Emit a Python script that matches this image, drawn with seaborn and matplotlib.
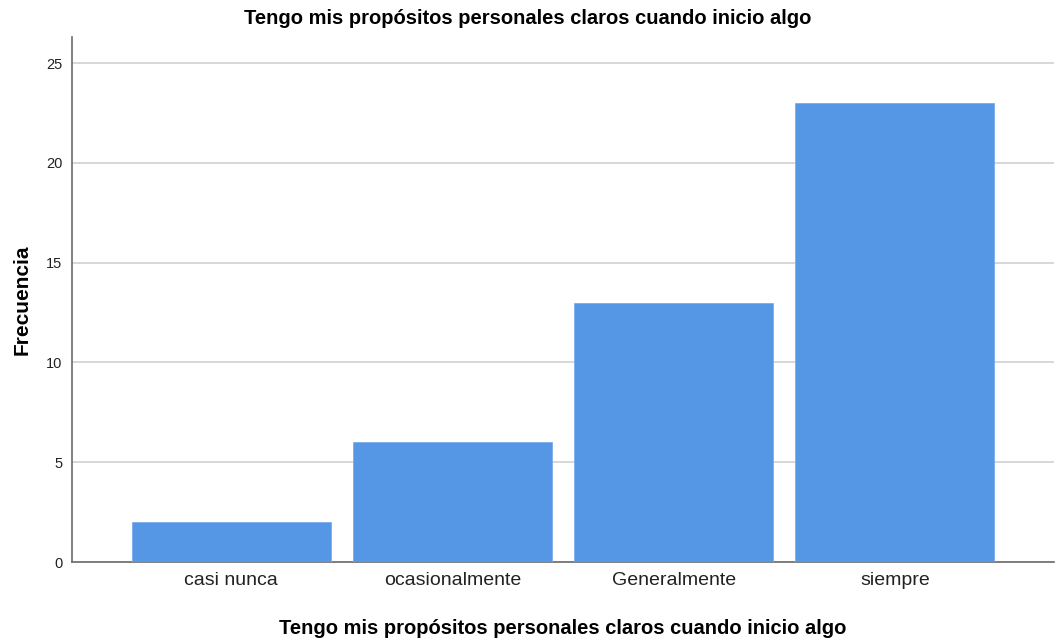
import matplotlib
matplotlib.use('Agg')
import matplotlib.pyplot as plt
import pandas as pd
import seaborn as sns

categories = ['casi nunca', 'ocasionalmente', 'Generalmente', 'siempre']
frecuencia = [2, 6, 13, 23]
titulo = 'Tengo mis propósitos personales claros cuando inicio algo'

sns.set_theme(style='white')
plt.rcParams['font.family'] = ['Liberation Sans', 'DejaVu Sans']

df = pd.DataFrame({'cat': categories, 'freq': frecuencia})

fig = plt.figure(figsize=(10.55, 6.39), dpi=100)
ax = fig.add_axes([0.0682, 0.1205, 0.931, 0.8215])

ax.yaxis.grid(True, color='#d4d4d4', linewidth=1.3, zorder=0)
ax.set_axisbelow(True)
sns.barplot(data=df, x='cat', y='freq', color='#5596e5', width=0.9,
            saturation=1, edgecolor='#7aaeed', linewidth=0.6, ax=ax, zorder=3)

ax.set_xlim(-0.72, 3.72)
ax.set_ylim(0, 26.3)
ax.set_yticks([0, 5, 10, 15, 20, 25])
for s in ['top', 'right']:
    ax.spines[s].set_visible(False)
for s in ['left', 'bottom']:
    ax.spines[s].set_color('#6b6b6b')
    ax.spines[s].set_linewidth(1.2)
ax.tick_params(axis='y', labelsize=10.5, colors='#222222', length=0, pad=7)
ax.tick_params(axis='x', labelsize=14, colors='#222222', length=0, pad=7)

ax.set_xlabel(titulo, fontsize=14.5, fontweight='bold', labelpad=22, color='black')
ax.set_ylabel('Frecuencia', fontsize=15, fontweight='bold', labelpad=10, color='black')
# el título va centrado en la figura, no en el eje
fig.text(0.5, 1 - 18 / 639, titulo, fontsize=14.5, fontweight='bold',
         ha='center', va='center', color='black')

fig.savefig('out.png', dpi=100, facecolor='white')
